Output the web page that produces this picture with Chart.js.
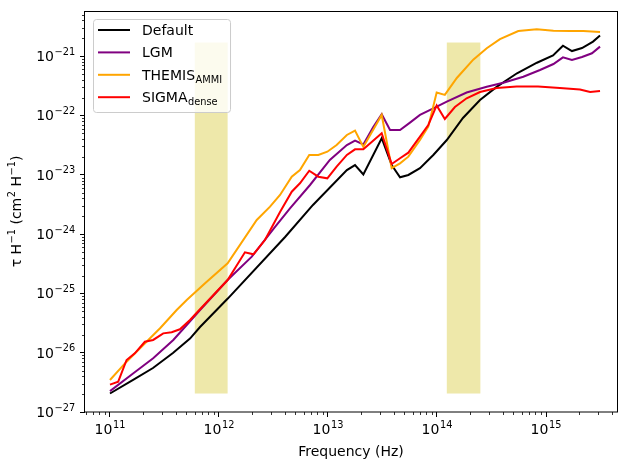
<!DOCTYPE html>
<html>
<head>
<meta charset="utf-8">
<script src="https://cdn.jsdelivr.net/npm/chart.js@4.4.1/dist/chart.umd.min.js"></script>
<style>
  html, body { margin: 0; padding: 0; background: #fff; }
  #wrap { width: 622px; height: 460px; }
</style>
</head>
<body>
<div id="wrap"><canvas id="tau-chart" width="622" height="460"></canvas></div>
<script>
/* ── Data ─────────────────────────────────────────────────────────────── */
const defaultFreq = [1.0e11, 1.63e11, 2.48e11, 3.78e11, 5.42e11, 6.70e11, 1.21e12, 4.04e12, 7.28e12,
  1.49e13, 1.77e13, 2.11e13, 3.11e13, 3.84e13, 4.58e13, 5.46e13, 6.98e13, 9.25e13, 1.23e14,
  1.73e14, 2.48e14, 3.55e14, 5.42e14, 8.26e14, 1.16e15, 1.43e15, 1.73e15, 2.14e15, 2.70e15, 3.13e15];
const defaultTau = [2.05e-27, 3.47e-27, 5.52e-27, 9.89e-27, 1.73e-26, 2.71e-26, 8.26e-26, 8.93e-25, 3.10e-24,
  1.20e-23, 1.46e-23, 1.01e-23, 4.13e-23, 1.46e-23, 9.08e-24, 9.93e-24, 1.29e-23, 2.16e-23, 3.86e-23,
  9.08e-23, 1.82e-22, 3.06e-22, 5.15e-22, 7.76e-22, 1.03e-21, 1.50e-21, 1.22e-21, 1.37e-21, 1.76e-21, 2.23e-21];

const lgmFreq = [1.0e11, 1.64e11, 2.49e11, 3.81e11, 5.06e11, 6.70e11, 1.20e12, 2.0e12, 3.27e12, 4.48e12,
  6.84e12, 1.04e13, 1.49e13, 1.77e13, 2.11e13, 2.61e13, 3.11e13, 3.71e13, 4.58e13, 5.65e13, 6.98e13,
  9.25e13, 1.23e14, 1.87e14, 2.86e14, 4.06e14, 6.19e14, 8.81e14, 1.17e15, 1.43e15, 1.73e15, 2.14e15,
  2.64e15, 3.13e15];
const lgmTau = [2.25e-27, 4.49e-27, 8.05e-27, 1.64e-26, 2.93e-26, 5.25e-26, 1.68e-25, 4.16e-25, 1.32e-24, 2.72e-24,
  6.73e-24, 1.78e-23, 3.18e-23, 3.76e-23, 3.24e-23, 6.47e-23, 1.05e-22, 5.69e-23, 5.69e-23, 7.57e-23, 1.02e-22,
  1.32e-22, 1.71e-22, 2.44e-22, 3.06e-22, 3.57e-22, 4.51e-22, 5.85e-22, 7.38e-22, 9.57e-22, 8.63e-22, 9.70e-22,
  1.12e-21, 1.45e-21];

const themisFreq = [1.0e11, 1.42e11, 2.02e11, 2.88e11, 4.09e11, 5.06e11, 7.45e11, 1.20e12, 2.22e12, 2.94e12,
  3.63e12, 4.65e12, 5.53e12, 6.73e12, 8.15e12, 9.86e12, 1.20e13, 1.49e13, 1.77e13, 2.11e13, 3.11e13,
  3.84e13, 4.58e13, 5.46e13, 6.98e13, 8.32e13, 9.93e13, 1.18e14, 1.52e14, 2.15e14, 2.86e14, 3.78e14,
  5.57e14, 8.22e14, 1.17e15, 1.66e15, 2.20e15, 3.13e15];
const themisTau = [3.47e-27, 7.05e-27, 1.35e-26, 2.58e-26, 5.25e-26, 7.74e-26, 1.48e-25, 3.22e-25, 1.73e-24, 2.90e-24,
  4.56e-24, 9.29e-24, 1.20e-23, 2.16e-23, 2.16e-23, 2.45e-23, 3.18e-23, 4.69e-23, 5.55e-23, 2.94e-23, 1.02e-22,
  1.29e-23, 1.56e-23, 2.02e-23, 3.86e-23, 6.47e-23, 2.44e-22, 2.22e-22, 4.29e-22, 8.73e-22, 1.36e-21, 1.94e-21,
  2.66e-21, 2.85e-21, 2.69e-21, 2.66e-21, 2.66e-21, 2.56e-21];

const sigmaFreq = [1.0e11, 1.19e11, 1.42e11, 1.69e11, 2.09e11, 2.49e11, 3.08e11, 3.68e11, 4.38e11, 5.42e11,
  6.70e11, 1.20e12, 1.73e12, 2.07e12, 2.64e12, 3.63e12, 4.65e12, 5.53e12, 6.73e12, 8.15e12, 9.86e12,
  1.20e13, 1.49e13, 1.77e13, 2.11e13, 3.11e13, 3.84e13, 4.58e13, 5.46e13, 6.98e13, 8.32e13, 9.93e13,
  1.18e14, 1.46e14, 1.87e14, 2.48e14, 3.53e14, 5.38e14, 8.45e14, 1.34e15, 2.05e15, 2.54e15, 3.13e15];
const sigmaTau = [2.9e-27, 3.24e-27, 7.53e-27, 9.77e-27, 1.53e-26, 1.64e-26, 2.12e-26, 2.21e-26, 2.48e-26, 3.56e-26,
  5.40e-26, 1.68e-25, 4.93e-25, 4.56e-25, 7.94e-25, 2.36e-24, 5.19e-24, 7.19e-24, 1.17e-23, 9.29e-24, 8.73e-24,
  1.37e-23, 2.16e-23, 2.69e-23, 2.69e-23, 5.01e-23, 1.52e-23, 1.90e-23, 2.36e-23, 4.40e-23, 6.92e-23, 1.48e-22,
  8.73e-23, 1.39e-22, 1.95e-22, 2.49e-22, 2.91e-22, 3.08e-22, 3.08e-22, 2.91e-22, 2.74e-22, 2.49e-22, 2.59e-22];

// shaded frequency bands
const bandLow    = [6.0e11, 1.23e14];
const bandHigh   = [1.2e12, 2.5e14];
const bandBottom = 2.05e-27;
const bandTop    = 1.7e-21;

// axes ( ^{..} = superscript, _{..} = subscript )
const xTickValues = [1e11, 1e12, 1e13, 1e14, 1e15];
const xTickLabels = ['10^{11}', '10^{12}', '10^{13}', '10^{14}', '10^{15}'];
const yTickValues = [1e-27, 1e-26, 1e-25, 1e-24, 1e-23, 1e-22, 1e-21];
const yTickLabels = ['10^{−27}', '10^{−26}', '10^{−25}', '10^{−24}', '10^{−23}', '10^{−22}', '10^{−21}'];
const xTitle = 'Frequency (Hz)';
const yTitle = 'τ H^{−1} (cm^{2} H^{−1})';

const seriesNames  = ['Default', 'LGM', 'THEMIS_{AMMI}', 'SIGMA_{dense}'];
const seriesColors = ['#000000', '#800080', '#ffa500', '#ff0000'];
const seriesFreq   = [defaultFreq, lgmFreq, themisFreq, sigmaFreq];
const seriesTau    = [defaultTau, lgmTau, themisTau, sigmaTau];

/* ── Text helpers (tiny mathtext) ─────────────────────────────────────── */
const FONT = '"DejaVu Sans", sans-serif';
const FS = 14;

function parseMath(str) {
  const parts = [];
  const re = /([\^_])\{([^}]*)\}/g;
  let last = 0, m;
  while ((m = re.exec(str)) !== null) {
    if (m.index > last) parts.push({ text: str.slice(last, m.index), mode: 'n' });
    parts.push({ text: m[2], mode: m[1] === '^' ? 'sup' : 'sub' });
    last = re.lastIndex;
  }
  if (last < str.length) parts.push({ text: str.slice(last), mode: 'n' });
  return parts;
}

function partFont(mode, size) {
  return (mode === 'n' ? size : size * 0.7) + 'px ' + FONT;
}

function mathWidth(ctx, str, size) {
  return parseMath(str).reduce((w, p) => {
    ctx.font = partFont(p.mode, size);
    return w + ctx.measureText(p.text).width + (p.mode === 'n' ? 0 : 0.5);
  }, 0);
}

// draws str with its baseline at y; align = 'left' | 'center' | 'right'
function drawMath(ctx, str, x, y, align, size = FS) {
  const w = mathWidth(ctx, str, size);
  let cx = align === 'center' ? x - w / 2 : align === 'right' ? x - w : x;
  ctx.textAlign = 'left';
  ctx.textBaseline = 'alphabetic';
  parseMath(str).forEach(p => {
    ctx.font = partFont(p.mode, size);
    const dy = p.mode === 'sup' ? -size * 0.45 : p.mode === 'sub' ? size * 0.2 : 0;
    if (p.mode !== 'n') cx += 0.5;
    ctx.fillText(p.text, cx, y + dy);
    cx += ctx.measureText(p.text).width;
  });
}

/* ── Plugins ──────────────────────────────────────────────────────────── */
const bandPlugin = {
  id: 'bands',
  beforeDatasetsDraw(chart) {
    const { ctx, scales: { x, y } } = chart;
    ctx.save();
    ctx.fillStyle = '#eee8aa';
    bandLow.forEach((lo, i) => {
      const x0 = x.getPixelForValue(lo), x1 = x.getPixelForValue(bandHigh[i]);
      const y0 = y.getPixelForValue(bandTop), y1 = y.getPixelForValue(bandBottom);
      ctx.fillRect(x0, y0, x1 - x0, y1 - y0);
    });
    ctx.restore();
  },
};

const framePlugin = {
  id: 'frame',
  afterDatasetsDraw(chart) {
    const { ctx, chartArea: a, scales: { x, y } } = chart;
    ctx.save();
    ctx.strokeStyle = '#000';
    ctx.lineWidth = 0.8;
    // minor ticks
    for (let d = 10; d <= 16; d++) {
      for (let k = 2; k <= 9; k++) {
        const v = k * Math.pow(10, d);
        if (v < x.min || v > x.max) continue;
        const p = Math.round(x.getPixelForValue(v)) + 0.5;
        ctx.beginPath(); ctx.moveTo(p, a.bottom); ctx.lineTo(p, a.bottom + 3); ctx.stroke();
      }
    }
    for (let d = -28; d <= -20; d++) {
      for (let k = 2; k <= 9; k++) {
        const v = k * Math.pow(10, d);
        if (v < y.min || v > y.max) continue;
        const p = Math.round(y.getPixelForValue(v)) + 0.5;
        ctx.beginPath(); ctx.moveTo(a.left, p); ctx.lineTo(a.left - 3, p); ctx.stroke();
      }
    }
    // spines
    ctx.lineWidth = 1;
    ctx.strokeRect(Math.round(a.left) - 0.5, Math.round(a.top) + 0.5,
                   Math.round(a.right - a.left) + 1, Math.round(a.bottom - a.top) - 0.5);

    // tick labels and axis titles
    ctx.fillStyle = '#000';
    xTickValues.forEach((v, i) => drawMath(ctx, xTickLabels[i], x.getPixelForValue(v), a.bottom + 22.3, 'center'));
    yTickValues.forEach((v, i) => drawMath(ctx, yTickLabels[i], a.left - 9.8, y.getPixelForValue(v) + 5, 'right'));
    drawMath(ctx, xTitle, (a.left + a.right) / 2, 456, 'center');
    ctx.translate(21, (a.top + a.bottom) / 2);
    ctx.rotate(-Math.PI / 2);
    drawMath(ctx, yTitle, 0, 0, 'center');
    ctx.restore();
  },
};

const legendPlugin = {
  id: 'mplLegend',
  afterDraw(chart) {
    const { ctx, chartArea: a } = chart;
    const x0 = a.left + 8, y0 = a.top + 8;
    const rowH = 22.4;
    const textX = x0 + 49;
    ctx.save();
    const maxW = Math.max(...seriesNames.map(n => mathWidth(ctx, n, FS)));
    const w = textX - x0 + maxW + 8, h = 93;
    ctx.beginPath();
    ctx.roundRect(x0 + 0.5, y0 + 0.5, w, h, 3);
    ctx.fillStyle = 'rgba(255,255,255,0.8)';
    ctx.fill();
    ctx.strokeStyle = '#cccccc';
    ctx.lineWidth = 1;
    ctx.stroke();

    seriesNames.forEach((name, i) => {
      const cy = y0 + 11 + i * rowH;
      ctx.strokeStyle = seriesColors[i];
      ctx.lineWidth = 2;
      ctx.beginPath(); ctx.moveTo(x0 + 5, cy); ctx.lineTo(x0 + 37, cy); ctx.stroke();
      ctx.fillStyle = '#000';
      drawMath(ctx, name, textX, cy + 5, 'left');
    });
    ctx.restore();
  },
};

/* ── Chart setup ──────────────────────────────────────────────────────── */
Chart.defaults.font.family = FONT;
Chart.defaults.font.size = FS;
Chart.defaults.color = '#000';

const datasets = seriesNames.map((name, i) => ({
  label: name,
  data: seriesFreq[i].map((f, j) => ({ x: f, y: seriesTau[i][j] })),
  borderColor: seriesColors[i],
  borderWidth: 2,
  pointRadius: 0,
  tension: 0,
  fill: false,
  order: seriesNames.length - i,
}));

const ctx = document.getElementById('tau-chart').getContext('2d');
const tauChart = new Chart(ctx, {
  type: 'line',
  data: { datasets },
  options: {
    responsive: false,
    animation: false,
    devicePixelRatio: 1,
    layout: { padding: { top: 11, right: 5, left: 0, bottom: 0 } },
    plugins: { legend: { display: false }, tooltip: { enabled: false } },
    scales: {
      x: {
        type: 'logarithmic',
        min: 5.9e10,
        max: 4.48e15,
        afterBuildTicks: (s) => { s.ticks = xTickValues.map(v => ({ value: v })); },
        afterFit: (s) => { s.height = 48; },
        ticks: { display: false, autoSkip: false, maxRotation: 0 },
        grid: { drawOnChartArea: false, tickLength: 5, tickColor: '#000', tickWidth: 1 },
        border: { display: false },
      },
      y: {
        type: 'logarithmic',
        min: 1e-27,
        max: 5.78e-21,
        afterBuildTicks: (s) => { s.ticks = yTickValues.map(v => ({ value: v })); },
        afterFit: (s) => { s.width = 85; },
        ticks: { display: false, autoSkip: false },
        grid: { drawOnChartArea: false, tickLength: 5, tickColor: '#000', tickWidth: 1 },
        border: { display: false },
      },
    },
  },
  plugins: [bandPlugin, framePlugin, legendPlugin],
});
</script>
</body>
</html>
